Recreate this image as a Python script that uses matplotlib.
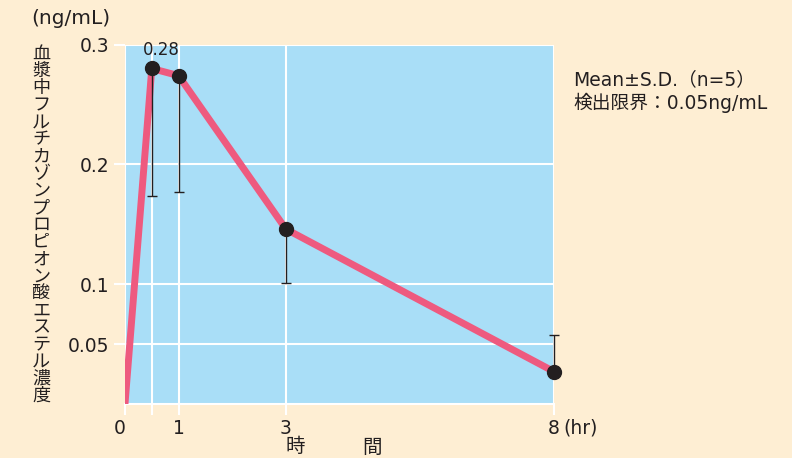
import matplotlib
matplotlib.use("Agg")
import matplotlib.pyplot as plt
import matplotlib.transforms as mtransforms

plt.rcParams['font.family'] = ['DejaVu Sans', 'Noto Sans CJK JP']

# 投与後時間 (hr) と血漿中濃度 (ng/mL)
times = [0, 0.5, 1, 3, 8]
conc = [0, 0.28, 0.274, 0.146, 0.027]
sd_lower = [0, 0.106, 0.097, 0.045, 0]
sd_upper = [0, 0, 0, 0, 0.031]

xticks = [0, 0.5, 1, 3, 8]
xticklabels = ['0', '', '1', '3', '8']
yticks = [0.05, 0.1, 0.2, 0.3]
yticklabels = ['0.05', '0.1', '0.2', '0.3']

ylabel = '血漿中フルチカゾンプロピオン酸エステル濃度'

bg = '#FEEED3'
blue = '#A9DEF7'
pink = '#EE5A7F'
dark = '#231F20'

fig = plt.figure(figsize=(7.92, 4.58), dpi=100)
fig.patch.set_facecolor(bg)
ax = fig.add_axes([0.1578, 0.1179, 0.5417, 0.7849])
ax.set_facecolor(blue)

ax.set_xlim(0, 8)
ax.set_ylim(0, 0.3)
for side in ['left', 'right', 'top']:
    ax.spines[side].set_visible(False)
ax.spines['bottom'].set_color('white')
ax.spines['bottom'].set_linewidth(1.5)

ax.set_xticks(xticks)
ax.set_xticklabels(xticklabels, fontsize=13.5, color=dark)
ax.set_yticks(yticks)
ax.set_yticklabels(yticklabels, fontsize=13.5, color=dark)
ax.tick_params(axis='both', direction='out', length=8, width=1.5, color='white', pad=3)
ax.grid(True, color='white', linewidth=1.5)
ax.set_axisbelow(True)

# 原点の「0」を少し左へ
shift = mtransforms.ScaledTranslation(-5 / 100, 0, fig.dpi_scale_trans)
lbl0 = ax.get_xticklabels()[0]
lbl0.set_transform(lbl0.get_transform() + shift)

# 濃度推移
ax.plot(times, conc, color=pink, linewidth=5, solid_joinstyle='round', zorder=3)
eb = ax.errorbar(times[1:], conc[1:], yerr=[sd_lower[1:], sd_upper[1:]], fmt='none',
                 ecolor=dark, elinewidth=1, capsize=3.6, capthick=1, zorder=4)
for art in eb.lines[1] + eb.lines[2]:
    art.set_clip_on(False)
ax.plot(times[1:], conc[1:], 'o', color=dark, markersize=10, zorder=5, clip_on=False)

ax.annotate(f'{conc[1]:.2f}', xy=(times[1], conc[1]), xytext=(6.5, 7), textcoords='offset points',
            ha='center', va='bottom', fontsize=12, color=dark)

# 単位・軸ラベル
fig.text(31 / 792, 1 - 18 / 458, '(ng/mL)', fontsize=14.5, color=dark, ha='left', va='center')
fig.text(563 / 792, 1 - 428 / 458, '(hr)', fontsize=13.5, color=dark, ha='left', va='center')
fig.text(295 / 792, 1 - 447 / 458, '時', fontsize=14, color=dark, ha='center', va='center')
fig.text(372 / 792, 1 - 447 / 458, '間', fontsize=14, color=dark, ha='center', va='center')

n = len(ylabel)
y0, y1 = 54, 396
for i, ch in enumerate(ylabel):
    y = y0 + (y1 - y0) * i / (n - 1)
    fig.text(41 / 792, 1 - y / 458, ch, fontsize=13, color=dark, ha='center', va='center')

fig.text(573 / 792, 1 - 80 / 458, 'Mean±S.D.（n=5）', fontsize=13.5, color=dark, ha='left', va='center')
fig.text(573 / 792, 1 - 103 / 458, '検出限界：0.05ng/mL', fontsize=13.5, color=dark, ha='left', va='center')

fig.savefig('out.png', dpi=100, facecolor=bg)
